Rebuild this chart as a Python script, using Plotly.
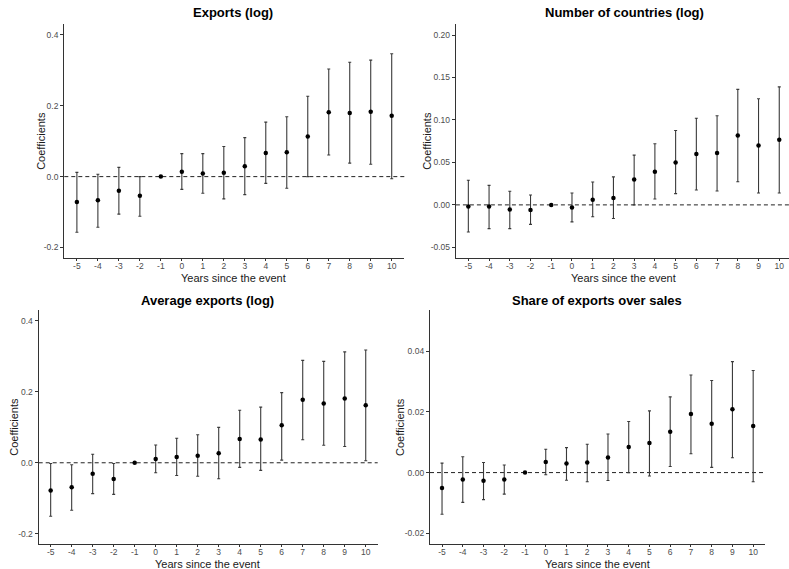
import plotly.graph_objects as go

years = [-5, -4, -3, -2, -1, 0, 1, 2, 3, 4, 5, 6, 7, 8, 9, 10]
tick_labels = [str(y) for y in years]

exp_coef = [-0.072, -0.067, -0.040, -0.054, 0.0, 0.014, 0.009, 0.011, 0.029, 0.067, 0.069, 0.113, 0.182, 0.180, 0.183, 0.172]
exp_hi = [0.012, 0.0065, 0.026, 0.0, 0.0, 0.065, 0.065, 0.085, 0.110, 0.154, 0.169, 0.227, 0.304, 0.323, 0.329, 0.347]
exp_lo = [-0.157, -0.143, -0.106, -0.112, 0.0, -0.036, -0.047, -0.063, -0.051, -0.019, -0.033, 0.0, 0.061, 0.038, 0.035, -0.006]

cty_coef = [-0.002, -0.002, -0.0055, -0.006, 0.0, -0.003, 0.006, 0.008, 0.030, 0.039, 0.050, 0.060, 0.061, 0.0816, 0.070, 0.0766]
cty_hi = [0.029, 0.023, 0.016, 0.0117, 0.0, 0.014, 0.027, 0.033, 0.0586, 0.072, 0.0875, 0.102, 0.105, 0.136, 0.125, 0.139]
cty_lo = [-0.032, -0.028, -0.028, -0.023, 0.0, -0.020, -0.014, -0.016, 0.0, 0.007, 0.0133, 0.0176, 0.0164, 0.0273, 0.014, 0.014]

avg_coef = [-0.0785, -0.069, -0.031, -0.046, 0.0, 0.011, 0.016, 0.0196, 0.027, 0.067, 0.066, 0.106, 0.178, 0.167, 0.181, 0.162]
avg_hi = [-0.002, -0.0056, 0.024, -0.002, 0.0, 0.050, 0.069, 0.079, 0.100, 0.148, 0.157, 0.198, 0.289, 0.286, 0.313, 0.318]
avg_lo = [-0.151, -0.134, -0.087, -0.089, 0.0, -0.028, -0.036, -0.038, -0.045, -0.013, -0.0215, 0.0075, 0.065, 0.0495, 0.046, 0.0056]

shr_coef = [-0.0051, -0.0023, -0.0027, -0.0023, 0.0, 0.0035, 0.003, 0.0033, 0.005, 0.0084, 0.0097, 0.0134, 0.0193, 0.0161, 0.0208, 0.0153]
shr_hi = [0.0031, 0.0052, 0.0033, 0.0025, 0.0, 0.0077, 0.0082, 0.0093, 0.0127, 0.0168, 0.0203, 0.0249, 0.0321, 0.0303, 0.0365, 0.0336]
shr_lo = [-0.0137, -0.0098, -0.0089, -0.0071, 0.0, -0.0007, -0.0025, -0.003, -0.0026, 0.0, -0.0011, 0.002, 0.0062, 0.0017, 0.0049, -0.003]

W, H = 789, 569
FONT = "Arial, 'Liberation Sans', sans-serif"

panels = [
    dict(title="Exports (log)", coef=exp_coef, hi=exp_hi, lo=exp_lo,
         xd=[64.3, 404.3], yd=[24, 257.7], xr=[-5.6, 10.6], yr=[-0.229, 0.431],
         yt=[-0.2, 0.0, 0.2, 0.4], ytl=["-0.2", "0.0", "0.2", "0.4"],
         tx=233, ty=13, ylx=41, xtx=233, xty=277.5),
    dict(title="Number of countries (log)", coef=cty_coef, hi=cty_hi, lo=cty_lo,
         xd=[455.9, 789], yd=[24, 257.7], xr=[-5.6, 10.47], yr=[-0.0622, 0.213],
         yt=[-0.05, 0.0, 0.05, 0.10, 0.15, 0.20], ytl=["-0.05", "0.00", "0.05", "0.10", "0.15", "0.20"],
         tx=624, ty=13, ylx=427, xtx=623, xty=277.5),
    dict(title="Average exports (log)", coef=avg_coef, hi=avg_hi, lo=avg_lo,
         xd=[38.7, 377.7], yd=[310, 543.6], xr=[-5.57, 10.57], yr=[-0.228, 0.431],
         yt=[-0.2, 0.0, 0.2, 0.4], ytl=["-0.2", "0.0", "0.2", "0.4"],
         tx=207, ty=300, ylx=14, xtx=207, xty=563.5),
    dict(title="Share of exports over sales", coef=shr_coef, hi=shr_hi, lo=shr_lo,
         xd=[430, 765], yd=[310, 544], xr=[-5.58, 10.57], yr=[-0.0235, 0.0535],
         yt=[-0.02, 0.0, 0.02, 0.04], ytl=["-0.02", "0.00", "0.02", "0.04"],
         tx=597, ty=300, ylx=400, xtx=597, xty=563.5),
]

fig = go.Figure()
annotations = []
shapes = []
for i, p in enumerate(panels, start=1):
    xa = "x" if i == 1 else f"x{i}"
    ya = "y" if i == 1 else f"y{i}"
    err_plus = [h - c for h, c in zip(p["hi"], p["coef"])]
    err_minus = [c - l for l, c in zip(p["lo"], p["coef"])]
    has_err = [not (h == 0 and l == 0) for h, l in zip(p["hi"], p["lo"])]
    ex = [x for x, e in zip(years, has_err) if e]
    ey = [c for c, e in zip(p["coef"], has_err) if e]
    ep = [v for v, e in zip(err_plus, has_err) if e]
    em = [v for v, e in zip(err_minus, has_err) if e]
    fig.add_trace(go.Scatter(
        x=ex, y=ey, mode="markers", marker=dict(size=0.1, color="rgba(0,0,0,0)"),
        error_y=dict(type="data", symmetric=False, array=ep, arrayminus=em,
                     color="#3a3a3a", thickness=1.1, width=1.5),
        xaxis=xa, yaxis=ya, showlegend=False, hoverinfo="skip"))
    fig.add_trace(go.Scatter(
        x=years, y=p["coef"], mode="markers",
        marker=dict(size=4.5, color="black"),
        xaxis=xa, yaxis=ya, showlegend=False))

    axkey = "xaxis" if i == 1 else f"xaxis{i}"
    aykey = "yaxis" if i == 1 else f"yaxis{i}"
    fig.layout[axkey] = dict(
        domain=[p["xd"][0] / W, p["xd"][1] / W], range=p["xr"],
        anchor=ya, tickmode="array", tickvals=years, ticktext=tick_labels,
        showline=True, linecolor="#333333", linewidth=1.3, ticks="outside",
        ticklen=2, tickcolor="#333333", tickwidth=1, showgrid=False, zeroline=False,
        tickfont=dict(family=FONT, size=8.5, color="#4d4d4d"), ticklabelstandoff=-2,
        automargin=False, fixedrange=True)
    fig.layout[aykey] = dict(
        domain=[1 - p["yd"][1] / H, 1 - p["yd"][0] / H], range=p["yr"],
        anchor=xa, tickmode="array", tickvals=p["yt"], ticktext=p["ytl"],
        showline=True, linecolor="#333333", linewidth=1.3, ticks="outside",
        ticklen=3, tickcolor="#333333", tickwidth=1, showgrid=False, zeroline=False,
        tickfont=dict(family=FONT, size=8.5, color="#4d4d4d"),
        automargin=False, fixedrange=True)
    annotations.append(dict(text="<b>" + p["title"] + "</b>", x=p["tx"] / W, y=1 - p["ty"] / H,
                            xref="paper", yref="paper", showarrow=False, xanchor="center", yanchor="middle",
                            font=dict(family=FONT, size=13, color="black")))
    annotations.append(dict(text="Coefficients", x=p["ylx"] / W, y=1 - ((p["yd"][0] + p["yd"][1]) / 2) / H,
                            xref="paper", yref="paper", showarrow=False, textangle=-90,
                            xanchor="center", yanchor="middle",
                            font=dict(family=FONT, size=11, color="#1a1a1a")))
    annotations.append(dict(text="Years since the event", x=p["xtx"] / W, y=1 - p["xty"] / H,
                            xref="paper", yref="paper", showarrow=False,
                            xanchor="center", yanchor="middle",
                            font=dict(family=FONT, size=11, color="#1a1a1a")))
    shapes.append(dict(type="line", xref=f"{xa} domain", yref=ya, x0=0, x1=1, y0=0, y1=0,
                       line=dict(color="#222222", width=1, dash="4px,3px"), layer="below"))

fig.update_layout(
    width=W, height=H, margin=dict(l=0, r=0, t=0, b=0, autoexpand=False),
    paper_bgcolor="white", plot_bgcolor="white",
    annotations=annotations, shapes=shapes, showlegend=False,
    font=dict(family=FONT),
)
fig.write_html("out.html", config={"displayModeBar": False},
               post_script="document.body.style.margin='0';document.body.style.overflow='hidden';")
